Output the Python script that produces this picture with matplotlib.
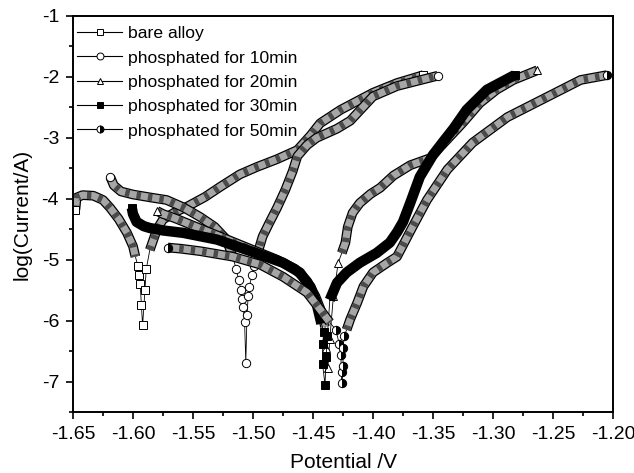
import matplotlib
matplotlib.use("Agg")
import matplotlib.pyplot as plt
from matplotlib.lines import Line2D
import numpy as np

plt.rcParams['font.family'] = ['Liberation Sans', 'DejaVu Sans']
plt.rcParams['axes.unicode_minus'] = False

labels = ["bare alloy", "phosphated for 10min", "phosphated for 20min",
          "phosphated for 30min", "phosphated for 50min"]

# ---- bare alloy ----
bare_cath_x = [-1.648, -1.647, -1.642, -1.633, -1.625, -1.619, -1.612, -1.605, -1.600, -1.598]
bare_cath_y = [-4.18, -3.98, -3.94, -3.95, -4.02, -4.15, -4.33, -4.56, -4.78, -4.95]
bare_tail_x = [-1.596, -1.595, -1.594, -1.593, -1.592, -1.590, -1.589]
bare_tail_y = [-5.10, -5.25, -5.40, -5.75, -6.08, -5.49, -5.16]
bare_anod_x = [-1.586, -1.580, -1.575, -1.565, -1.555, -1.540, -1.527, -1.511, -1.497,
               -1.480, -1.463, -1.452, -1.444, -1.427, -1.400, -1.380, -1.358]
bare_anod_y = [-4.84, -4.50, -4.34, -4.22, -4.13, -3.97, -3.80, -3.60, -3.48,
               -3.35, -3.20, -2.96, -2.76, -2.54, -2.26, -2.10, -1.97]

# ---- phosphated 10 min ----
p10_cath_x = [-1.619, -1.616, -1.610, -1.600, -1.585, -1.572, -1.558, -1.544, -1.532, -1.522, -1.517]
p10_cath_y = [-3.64, -3.78, -3.88, -3.93, -3.98, -4.02, -4.14, -4.30, -4.46, -4.67, -4.95]
p10_tail_x = [-1.514, -1.512, -1.510, -1.509, -1.508, -1.507, -1.506, -1.505, -1.504, -1.503, -1.501, -1.499]
p10_tail_y = [-5.15, -5.33, -5.50, -5.64, -5.78, -6.03, -6.69, -5.90, -5.60, -5.45, -5.25, -5.10]
p10_anod_x = [-1.497, -1.492, -1.486, -1.480, -1.473, -1.467, -1.463, -1.455, -1.447,
              -1.430, -1.419, -1.400, -1.380, -1.346]
p10_anod_y = [-4.95, -4.62, -4.38, -4.15, -3.85, -3.55, -3.30, -3.12, -3.00,
              -2.85, -2.72, -2.32, -2.15, -1.98]

# ---- phosphated 20 min ----
p20_cath_x = [-1.580, -1.575, -1.565, -1.555, -1.540, -1.525, -1.510, -1.495, -1.480,
              -1.465, -1.455, -1.448, -1.443, -1.440]
p20_cath_y = [-4.20, -4.25, -4.32, -4.40, -4.52, -4.64, -4.76, -4.88, -5.00,
              -5.15, -5.35, -5.60, -5.85, -6.10]
p20_tail_x = [-1.439, -1.4375, -1.436, -1.433, -1.429]
p20_tail_y = [-6.45, -6.77, -6.30, -5.60, -5.05]
p20_anod_x = [-1.426, -1.423, -1.421, -1.417, -1.411, -1.402, -1.394, -1.383, -1.369,
              -1.352, -1.344, -1.325, -1.311, -1.297, -1.283, -1.263]
p20_anod_y = [-4.89, -4.72, -4.46, -4.23, -4.07, -3.92, -3.82, -3.62, -3.45,
              -3.33, -3.15, -2.75, -2.43, -2.21, -2.05, -1.89]

# ---- phosphated 30 min ----
p30_cath_x = [-1.601, -1.600, -1.597, -1.591, -1.586, -1.575, -1.558, -1.530, -1.502,
              -1.475, -1.461, -1.452, -1.447, -1.443]
p30_cath_y = [-4.15, -4.25, -4.38, -4.45, -4.48, -4.52, -4.56, -4.67, -4.86,
              -5.05, -5.21, -5.45, -5.72, -6.05]
p30_tail_x = [-1.441, -1.442, -1.442, -1.440, -1.439, -1.438]
p30_tail_y = [-6.18, -6.39, -6.72, -7.05, -6.60, -6.25]
p30_anod_x = [-1.436, -1.430, -1.422, -1.411, -1.397, -1.386, -1.380, -1.375, -1.369,
              -1.361, -1.350, -1.341, -1.333, -1.322, -1.305, -1.282]
p30_anod_y = [-5.66, -5.38, -5.21, -5.05, -4.89, -4.72, -4.55, -4.38, -4.07,
              -3.64, -3.28, -3.05, -2.85, -2.54, -2.21, -1.97]

# ---- phosphated 50 min ----
p50_cath_x = [-1.571, -1.560, -1.544, -1.517, -1.494, -1.475, -1.455, -1.444, -1.436]
p50_cath_y = [-4.80, -4.82, -4.86, -4.95, -5.08, -5.28, -5.54, -5.82, -6.03]
p50_tail_x = [-1.431, -1.428, -1.427, -1.426, -1.426, -1.425, -1.425, -1.424]
p50_tail_y = [-6.15, -6.39, -6.56, -6.85, -7.03, -6.75, -6.45, -6.26]
p50_anod_x = [-1.422, -1.419, -1.413, -1.408, -1.400, -1.388, -1.380, -1.367, -1.355,
              -1.338, -1.317, -1.288, -1.255, -1.227, -1.205]
p50_anod_y = [-6.15, -5.98, -5.70, -5.44, -5.21, -5.05, -4.95, -4.46, -4.02,
              -3.52, -3.08, -2.66, -2.33, -2.05, -1.97]

x_ticks = [-1.65, -1.60, -1.55, -1.50, -1.45, -1.40, -1.35, -1.30, -1.25, -1.20]
y_ticks = [-1, -2, -3, -4, -5, -6, -7]

series = [
    (bare_cath_x, bare_cath_y, bare_tail_x, bare_tail_y, bare_anod_x, bare_anod_y),
    (p10_cath_x, p10_cath_y, p10_tail_x, p10_tail_y, p10_anod_x, p10_anod_y),
    (p20_cath_x, p20_cath_y, p20_tail_x, p20_tail_y, p20_anod_x, p20_anod_y),
    (p30_cath_x, p30_cath_y, p30_tail_x, p30_tail_y, p30_anod_x, p30_anod_y),
    (p50_cath_x, p50_cath_y, p50_tail_x, p50_tail_y, p50_anod_x, p50_anod_y),
]
marker_styles = [
    dict(marker='s', mfc='white', mec='black'),
    dict(marker='o', mfc='white', mec='black'),
    dict(marker='^', mfc='white', mec='black'),
    dict(marker='s', mfc='black', mec='black'),
    dict(marker='o', mfc='black', mec='black', fillstyle='right', markerfacecoloralt='white'),
]

fig = plt.figure(figsize=(6.34, 4.73), dpi=100)
ax = fig.add_axes([73/634, 1-412/473, 540/634, 396/473])

for i, (cx, cy, tx, ty, axx, ayy) in enumerate(series):
    ms = marker_styles[i]
    fx = cx + tx + axx
    fy = cy + ty + ayy
    z = 2 + i
    # thin connecting line
    ax.plot(fx, fy, color='black', lw=0.6, zorder=z)
    for bx, by in ((cx, cy), (axx, ayy)):
        if i == 3:
            ax.plot(bx, by, color='black', lw=7.5, solid_capstyle='butt',
                    solid_joinstyle='round', zorder=z)
        else:
            ax.plot(bx, by, color='black', lw=7.0, solid_capstyle='butt',
                    solid_joinstyle='round', zorder=z)
            ax.plot(bx, by, color='#a6a6a6', lw=5.2, solid_capstyle='butt',
                    solid_joinstyle='round', zorder=z)
            ax.plot(bx, by, color='#4a4a4a', lw=5.2, dashes=(0.6, 1.0),
                    dash_capstyle='butt', zorder=z)
    # individual markers: tail points plus the ends of the curve
    mx = [fx[0]] + tx + [fx[-1]]
    my = [fy[0]] + ty + [fy[-1]]
    ax.plot(mx, my, ls='none', markersize=6, mew=0.7, zorder=z + 0.5, **ms)

ax.set_xlim(-1.65, -1.20)
ax.set_ylim(-7.5, -1)
ax.set_xticks(x_ticks)
ax.set_xticklabels([f"{v:.2f}" for v in x_ticks])
ax.set_yticks(y_ticks)
ax.set_yticklabels([f"{v:d}" for v in y_ticks])
ax.set_xticks(np.arange(-1.625, -1.20, 0.05), minor=True)
ax.set_yticks(np.arange(-7.5, -1.0, 1.0), minor=True)
ax.tick_params(which='major', direction='out', length=5, width=1.2, labelsize=14,
               top=False, right=False, pad=5)
ax.tick_params(which='minor', direction='out', length=3, width=1.2, top=False, right=False)
for s in ax.spines.values():
    s.set_linewidth(1.4)

ax.set_xlabel("Potential /V", fontsize=15, labelpad=7)
ax.set_ylabel("log(Current/A)", fontsize=15, labelpad=7)

handles = [Line2D([], [], color='black', lw=0.8, markersize=5, mew=0.7, **ms)
           for ms in marker_styles]
ax.legend(handles, labels, loc='upper left', bbox_to_anchor=(0.007, 0.975),
          frameon=False, fontsize=12.6, handlelength=2.6, handletextpad=0.3,
          labelspacing=0.52, borderpad=0, borderaxespad=0, numpoints=1)

fig.savefig("out.png", dpi=100)
